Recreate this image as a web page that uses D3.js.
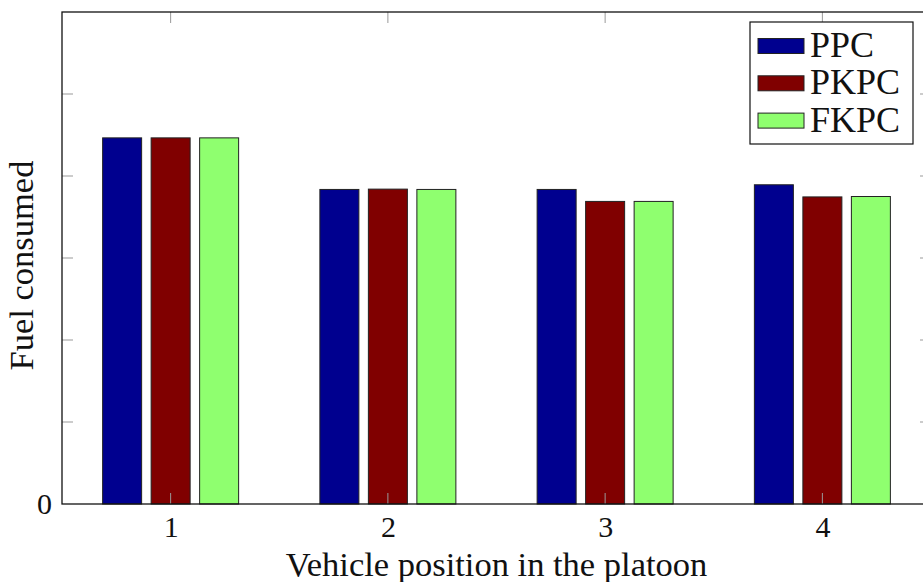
<!DOCTYPE html>
<html>
<head>
<meta charset="utf-8">
<script src="https://cdn.jsdelivr.net/npm/d3@7"></script>
<style>
  html, body { margin: 0; padding: 0; background: #fff; }
  svg { display: block; }
  text { font-family: "Liberation Serif", "DejaVu Serif", serif; fill: #111; }
</style>
</head>
<body>
<script>
// Fuel consumed per vehicle position, for three controllers
const positions = [1, 2, 3, 4];
const seriesNames = ["PPC", "PKPC", "FKPC"];
const ppc  = [4.465, 3.836, 3.836, 3.893];
const pkpc = [4.465, 3.840, 3.690, 3.745];
const fkpc = [4.465, 3.836, 3.690, 3.750];
const seriesColors = ["#00008f", "#800000", "#8fff6f"];
const yTicks = [0, 1, 2, 3, 4, 5, 6];
const yTickLabels = ["0", "", "", "", "", "", ""];
const xLabel = "Vehicle position in the platoon";
const yLabel = "Fuel consumed";

const W = 923, H = 582;
const plotL = 62, plotR = 931, plotT = 12, plotB = 504;

const svg = d3.select("body").append("svg").attr("width", W).attr("height", H);

const x = d3.scaleLinear().domain([0.5, 4.5]).range([plotL, plotR]);
const y = d3.scaleLinear().domain([0, 6]).range([plotB, plotT]);

const barW = 39, barGap = 9.5;
const offsets = [-(barW + barGap), 0, barW + barGap];

const seriesData = [ppc, pkpc, fkpc];

// bars
seriesData.forEach((vals, si) => {
  svg.append("g").selectAll("rect")
    .data(positions.map((p, i) => ({ p, v: vals[i] })))
    .join("rect")
    .attr("x", d => x(d.p) + offsets[si] - barW / 2)
    .attr("y", d => y(d.v))
    .attr("width", barW)
    .attr("height", d => y(0) - y(d.v))
    .attr("fill", seriesColors[si])
    .attr("stroke", "#222")
    .attr("stroke-width", 1);
});

// inward tick marks on all four sides
const tickLen = 11;
const tickG = svg.append("g").attr("stroke", "#999").attr("stroke-width", 1);
yTicks.slice(1, -1).forEach(t => {
  tickG.append("line").attr("x1", plotL).attr("x2", plotL + tickLen).attr("y1", y(t)).attr("y2", y(t));
  tickG.append("line").attr("x1", plotR).attr("x2", plotR - tickLen).attr("y1", y(t)).attr("y2", y(t));
});
positions.forEach(p => {
  tickG.append("line").attr("x1", x(p)).attr("x2", x(p)).attr("y1", plotT).attr("y2", plotT + tickLen);
  tickG.append("line").attr("x1", x(p)).attr("x2", x(p)).attr("y1", plotB).attr("y2", plotB - tickLen);
});

// frame
svg.append("rect")
  .attr("x", plotL).attr("y", plotT)
  .attr("width", plotR - plotL).attr("height", plotB - plotT)
  .attr("fill", "none").attr("stroke", "#111").attr("stroke-width", 1.3);

// x tick labels
const xAxis = d3.axisBottom(x).tickValues(positions).tickSize(0).tickPadding(12).tickFormat(d3.format("d"));
const gx = svg.append("g").attr("transform", `translate(0,${plotB})`).call(xAxis);
gx.select(".domain").remove();
gx.selectAll("text").attr("font-size", 30).attr("font-family", "Liberation Serif").attr("fill", "#111");

// y tick labels
const yAxis = d3.axisLeft(y).tickValues(yTicks).tickSize(0).tickPadding(10).tickFormat((d, i) => yTickLabels[i]);
const gy = svg.append("g").attr("transform", `translate(${plotL},0)`).call(yAxis);
gy.select(".domain").remove();
gy.selectAll("text").attr("font-size", 30).attr("font-family", "Liberation Serif").attr("fill", "#111");

// axis titles
svg.append("text")
  .attr("x", (288 + 705) / 2).attr("y", 576)
  .attr("text-anchor", "middle").attr("font-size", 34.5)
  .text(xLabel);

svg.append("text")
  .attr("transform", `translate(33,${(158 + 373) / 2}) rotate(-90)`)
  .attr("text-anchor", "middle").attr("font-size", 34.5)
  .text(yLabel);

// legend
const lg = svg.append("g");
lg.append("rect")
  .attr("x", 750).attr("y", 22).attr("width", 163).attr("height", 122)
  .attr("fill", "#fff").attr("stroke", "#111").attr("stroke-width", 1.2);
seriesNames.forEach((name, i) => {
  const cy = 46 + i * 37.3;
  lg.append("rect")
    .attr("x", 758).attr("y", cy - 7.5).attr("width", 46).attr("height", 15)
    .attr("fill", seriesColors[i]).attr("stroke", "#222").attr("stroke-width", 1);
  lg.append("text")
    .attr("x", 810).attr("y", cy + 11)
    .attr("font-size", 35)
    .attr("textLength", name === "PPC" ? 64 : 90)
    .attr("lengthAdjust", "spacingAndGlyphs")
    .text(name);
});
</script>
</body>
</html>
